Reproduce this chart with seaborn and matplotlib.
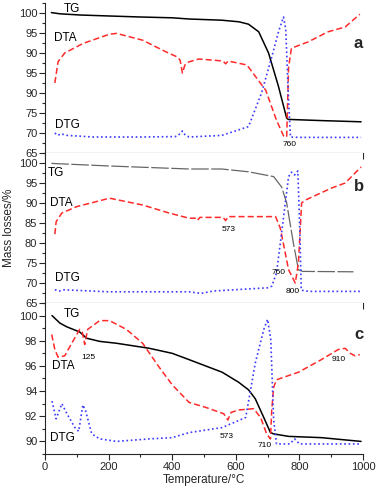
import numpy as np
import pandas as pd
import matplotlib
matplotlib.use("Agg")
import matplotlib.pyplot as plt
from matplotlib.ticker import MultipleLocator, FixedLocator
import seaborn as sns

# ---- panel a ----
tg_a_T = [20, 47, 110, 203, 300, 400, 453, 556, 610, 640, 672, 703, 734, 760, 765, 870, 994]
tg_a_y = [100.1, 99.8, 99.5, 99.25, 99.0, 98.8, 98.5, 98.2, 97.8, 97.2, 95.3, 90.0, 81.7, 73.7, 73.4, 73.1, 72.8]
dta_a_T = [31, 41, 62, 120, 203, 225, 307, 380, 416, 425, 432, 440, 453, 484, 560, 568, 576, 635, 694, 728, 750, 760, 766, 775, 828, 890, 944, 990]
dta_a_y = [82.5, 87.8, 90.0, 92.4, 94.7, 94.9, 93.2, 90.3, 89.0, 88.2, 85.0, 87.0, 87.8, 88.5, 88.0, 87.3, 88.0, 87.0, 80.7, 73.2, 69.3, 69.0, 86.5, 91.2, 92.8, 95.3, 96.5, 99.7]
dtg_a_T = [31, 40, 50, 70, 150, 300, 410, 425, 432, 440, 453, 556, 640, 681, 713, 735, 750, 757, 766, 772, 800, 994]
dtg_a_y = [70.0, 69.4, 69.8, 69.4, 69.0, 69.0, 69.1, 69.8, 70.5, 69.6, 69.0, 69.4, 71.6, 80.0, 89.0, 95.5, 99.0, 96.0, 78.0, 69.0, 68.9, 68.9]

# ---- panel b ----
tg_b_T = [20, 203, 453, 556, 640, 719, 744, 760, 781, 797, 810, 970]
tg_b_y = [99.9, 99.25, 98.5, 98.5, 97.8, 96.6, 94.0, 90.0, 80.0, 73.3, 72.9, 72.8]
dta_b_T = [31, 35, 53, 100, 203, 307, 390, 453, 472, 479, 487, 560, 568, 576, 725, 740, 766, 787, 797, 807, 818, 900, 944, 994]
dta_b_y = [82.2, 85.3, 87.5, 89.1, 91.2, 89.5, 87.5, 86.2, 86.2, 85.6, 86.4, 86.4, 85.6, 86.6, 86.6, 83.7, 73.3, 70.0, 75.0, 90.0, 90.7, 93.7, 95.0, 99.0]
dtg_b_T = [31, 45, 60, 200, 453, 490, 530, 700, 713, 728, 744, 766, 775, 785, 795, 800, 806, 830, 994]
dtg_b_y = [68.3, 68.0, 68.3, 67.8, 67.8, 67.4, 68.0, 68.8, 69.2, 72.5, 82.5, 96.6, 97.7, 97.0, 98.0, 86.6, 68.2, 67.9, 67.9]

# ---- panel c ----
tg_c_T = [22, 47, 69, 109, 131, 172, 225, 328, 400, 453, 557, 609, 640, 661, 688, 709, 719, 766, 869, 994]
tg_c_y = [100.0, 99.4, 99.1, 98.7, 98.2, 97.95, 97.8, 97.4, 97.0, 96.5, 95.5, 94.7, 94.1, 93.4, 91.9, 90.7, 90.6, 90.4, 90.3, 90.0]
dta_c_T = [21, 31, 41, 62, 84, 109, 117, 125, 134, 172, 203, 256, 307, 359, 400, 453, 506, 562, 575, 585, 609, 656, 678, 697, 709, 713, 719, 728, 797, 869, 922, 944, 960, 975, 990]
dta_c_y = [98.5, 97.3, 96.7, 96.8, 97.8, 98.9, 98.7, 97.7, 98.9, 99.6, 99.6, 98.9, 97.8, 95.9, 94.5, 93.1, 92.7, 92.2, 91.7, 92.3, 92.5, 92.6, 91.9, 90.6, 90.2, 92.5, 94.3, 94.9, 95.5, 96.5, 97.3, 97.4, 97.0, 96.8, 96.9]
dtg_c_T = [22, 35, 53, 69, 94, 106, 119, 128, 147, 172, 225, 328, 400, 453, 557, 631, 641, 661, 688, 700, 710, 719, 728, 770, 785, 800, 994]
dtg_c_y = [93.2, 91.8, 93.0, 92.2, 91.1, 90.8, 92.9, 92.4, 90.6, 90.2, 90.0, 90.2, 90.3, 90.7, 91.1, 91.9, 93.3, 96.2, 98.9, 99.7, 98.1, 91.7, 89.8, 89.8, 90.2, 89.8, 89.8]

a_ticklabels = ["100", "95", "90", "95", "90", "75", "70", "65"]
b_ticklabels = ["100", "95", "90", "85", "80", "75", "70", "65"]

sns.set_style("ticks")
plt.rcParams["font.family"] = ["Liberation Sans", "DejaVu Sans"]

fig = plt.figure(figsize=(3.8, 4.94), dpi=100)
left, right = 45 / 380, 363 / 380
h_a = 150 / 494
top = 1 - 3 / 494
ax_a = fig.add_axes([left, top - h_a, right - left, h_a])
ax_b = fig.add_axes([left, top - 2 * h_a, right - left, h_a], sharex=ax_a)
ax_c = fig.add_axes([left, 40 / 494, right - left, top - 2 * h_a - 40 / 494], sharex=ax_a)

red = "#ff2a2a"
blue = "#3a3aff"


def draw(ax, tgT, tgy, dtaT, dtay, dtgT, dtgy, tg_color="black", tg_ls="-", tg_lw=1.1):
    sns.lineplot(x=tgT, y=tgy, ax=ax, color=tg_color, linestyle=tg_ls, linewidth=tg_lw, sort=False)
    sns.lineplot(x=dtaT, y=dtay, ax=ax, color=red, linestyle=(0, (4, 2)), linewidth=1.1, sort=False)
    sns.lineplot(x=dtgT, y=dtgy, ax=ax, color=blue, linestyle=(0, (1, 1.6)), linewidth=1.2, sort=False)


draw(ax_a, tg_a_T, tg_a_y, dta_a_T, dta_a_y, dtg_a_T, dtg_a_y)
draw(ax_b, tg_b_T, tg_b_y, dta_b_T, dta_b_y, dtg_b_T, dtg_b_y,
     tg_color="#666666", tg_ls=(0, (14, 2)), tg_lw=0.9)
draw(ax_c, tg_c_T, tg_c_y, dta_c_T, dta_c_y, dtg_c_T, dtg_c_y)

for ax in (ax_a, ax_b, ax_c):
    ax.set_xlim(0, 1000)
    sns.despine(ax=ax, top=True, right=True)
    ax.xaxis.set_major_locator(MultipleLocator(200))
    ax.xaxis.set_minor_locator(MultipleLocator(100))
    ax.tick_params(axis="both", which="major", direction="out", length=4, width=0.8, labelsize=8, pad=1.5)
    ax.tick_params(axis="both", which="minor", direction="out", length=2.5, width=0.8)
    ax.set_xlabel("")
    ax.set_ylabel("")

for ax, labels in ((ax_a, a_ticklabels), (ax_b, b_ticklabels)):
    ax.set_ylim(65, 102.5)
    ax.yaxis.set_major_locator(FixedLocator([100, 95, 90, 85, 80, 75, 70, 65]))
    ax.set_yticklabels(labels)
    ax.yaxis.set_minor_locator(MultipleLocator(2.5))
    ax.tick_params(axis="x", labelbottom=False)

ax_c.set_ylim(89, 101)
ax_c.yaxis.set_major_locator(MultipleLocator(2))
ax_c.yaxis.set_minor_locator(MultipleLocator(1))

txt = dict(fontsize=8.5, color="black", va="center")
small = dict(fontsize=6, color="black", ha="center", va="center")

ax_a.text(58, 101.1, "TG", **txt)
ax_a.text(28, 93.7, "DTA", **txt)
ax_a.text(32, 72.0, "DTG", **txt)
ax_a.text(768, 67.2, "760", **small)
ax_a.text(985, 92.3, "a", fontsize=12, fontweight="bold", ha="center", va="center")

ax_b.text(8, 97.5, "TG", **txt)
ax_b.text(15, 90.0, "DTA", **txt)
ax_b.text(32, 71.2, "DTG", **txt)
ax_b.text(578, 83.4, "573", **small)
ax_b.text(735, 72.6, "760", **small)
ax_b.text(780, 67.8, "800", **small)
ax_b.text(988, 94.2, "b", fontsize=12, fontweight="bold", ha="center", va="center")

ax_c.text(58, 100.1, "TG", **txt)
ax_c.text(22, 96.0, "DTA", **txt)
ax_c.text(135, 96.7, "125", **small)
ax_c.text(15, 90.3, "DTG", **txt)
ax_c.text(572, 90.4, "573", **small)
ax_c.text(692, 89.65, "710", **small)
ax_c.text(922, 96.5, "910", **small)
ax_c.text(988, 98.5, "c", fontsize=12, fontweight="bold", ha="center", va="center")

ax_c.set_xlabel("Temperature/°C", fontsize=8.5, labelpad=2)
fig.text(0.025, (top - h_a - h_a / 2), "Mass losses/%", rotation=90, fontsize=8.5, ha="center", va="center")

fig.savefig("out.png", dpi=100)
